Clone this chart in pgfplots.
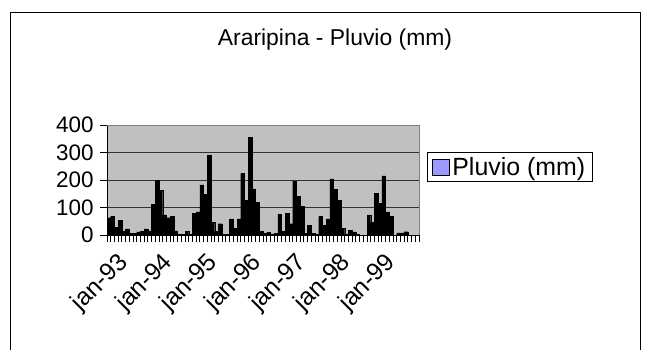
\documentclass[border=0pt]{standalone}
\usepackage{pgfplots}
\pgfplotsset{compat=1.18}
\usepackage{pgfplotstable}
\usepackage{fontspec}
\setmainfont{Liberation Sans}
\definecolor{plotgray}{RGB}{192,192,192}
\definecolor{legblue}{RGB}{153,153,255}
\pgfplotstableread{
v
63
69
28
53
13
22
6
6
11
13
22
15
112
200
162
73
63
69
15
2
2
13
2
80
84
182
147
291
45
13
41
2
2
59
24
59
224
126
355
168
119
13
6
10
4
6
76
13
80
41
196
140
105
6
35
6
2
67
35
59
204
165
126
24
2
17
11
2
0
0
73
45
152
115
215
84
69
0
8
8
12
0
0
0
}\pluvio
\begin{document}
\begin{tikzpicture}
\useasboundingbox (0,0) rectangle (645bp,350bp);
\draw[line width=0.8bp] (10bp,-5bp) -- (10bp,338bp) -- (640bp,338bp) -- (640bp,-5bp);
\node[font=\fontsize{23}{27}\selectfont] at (335bp,310bp) {Araripina - Pluvio (mm)};
\begin{axis}[
 scale only axis, width=312bp, height=110bp,
 at={(107bp,115bp)}, anchor=south west,
 xmin=0, xmax=84, ymin=0, ymax=400,
 axis background/.style={fill=plotgray},
 axis x line*=bottom, axis y line*=left,
 axis line style={black, line width=0.8bp},
 ytick={0,100,200,300,400},
 ymajorgrids, grid style={black!80, line width=0.8bp},
 xtick={0.5,12.5,24.5,36.5,48.5,60.5,72.5},
 xticklabels={jan-93,jan-94,jan-95,jan-96,jan-97,jan-98,jan-99},
 minor xtick={0,1,...,84},
 major x tick style={draw=none},
 tick style={black, line width=0.8bp},
 tick align=outside,
 major tick length=7bp, minor tick length=7bp,
 tick label style={font=\fontsize{22.5}{26}\selectfont},
 /pgf/number format/assume math mode=true,
 yticklabel style={xshift=-3bp},
 xticklabel style={rotate=45, anchor=east, yshift=-23bp, xshift=1bp, font=\fontsize{24.5}{28}\selectfont, inner sep=2bp},
 legend style={at={(1.0256,0.618)}, anchor=west, draw=black, line width=0.8bp, fill=white,
   font=\fontsize{25}{29}\selectfont, inner xsep=5bp, inner ysep=3bp},
 legend image code/.code={\draw[fill=legblue, draw=black, line width=1bp] (0bp,-8bp) rectangle (17bp,8bp);},
 clip=false,
]
\addplot[ybar, bar width=1, fill=black, draw=black, line width=0.3bp]
  table[x expr=\coordindex+0.5, y=v] {\pluvio};
\addlegendentry{Pluvio (mm)\hspace{8bp}}
\draw[gray, line width=0.8bp] (rel axis cs:0,1) -- (rel axis cs:1,1) -- (rel axis cs:1,0);
\end{axis}
\end{tikzpicture}
\end{document}
